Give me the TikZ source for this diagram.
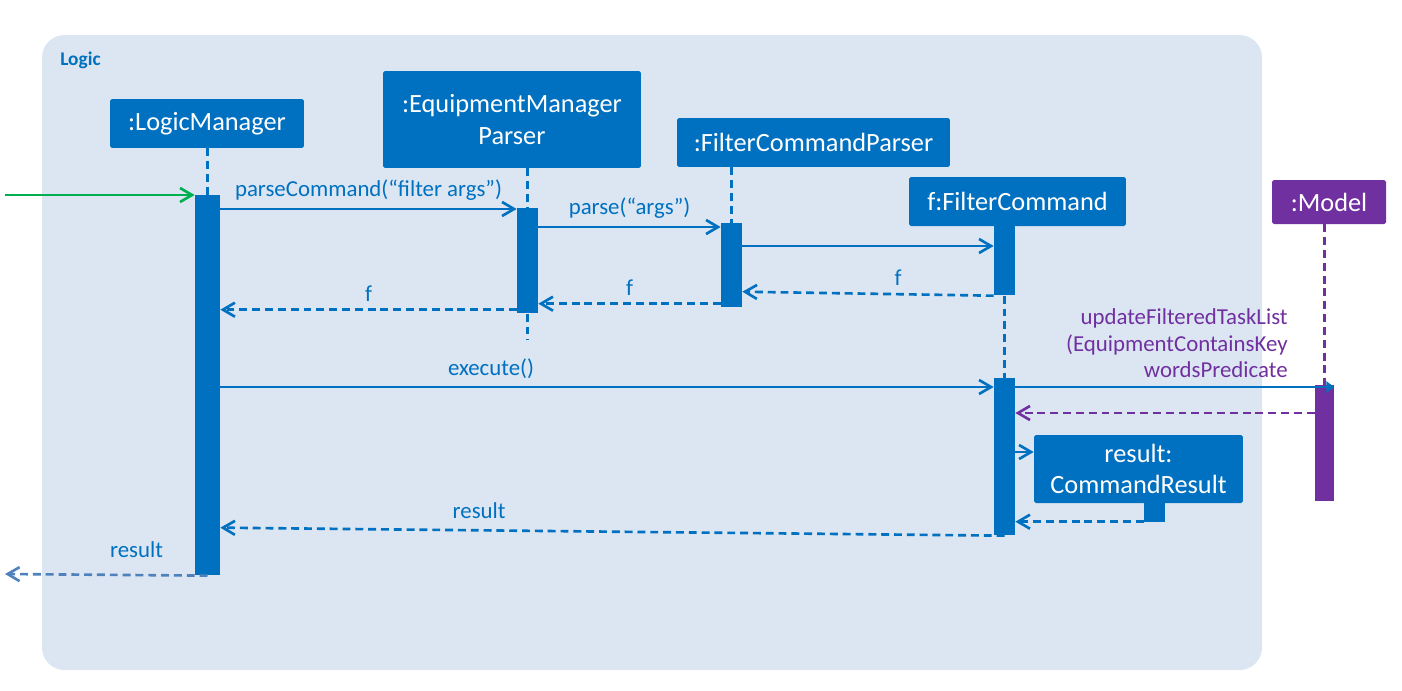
\documentclass[tikz,border=0pt]{standalone}
\usepackage{fontspec}
\setmainfont{Carlito}
\usepackage{tikz}
\usetikzlibrary{arrows.meta,calc}
\definecolor{seqblue}{HTML}{0070C0}
\definecolor{seqpurple}{HTML}{7030A0}
\definecolor{seqgreen}{HTML}{00B050}
\definecolor{seqpale}{HTML}{4F81BD}
\definecolor{panel}{HTML}{DCE6F2}
\tikzset{
  objbox/.style={fill=seqblue, text=white, font=\fontsize{15}{18}\selectfont, align=center, inner sep=0pt, rounded corners=1pt},
  actbar/.style={fill=seqblue, inner sep=0pt, minimum width=0.42cm, anchor=north},
  lifeline/.style={draw=seqblue, line width=1.5pt, dash pattern=on 4.5pt off 2.8pt},
  callarr/.style={-{Straight Barb[length=2.4mm,width=2.8mm]}, draw=seqblue, line width=1.5pt},
  retarr/.style={callarr, dash pattern=on 4.5pt off 2.8pt},
  msglabel/.style={text=seqblue, font=\fontsize{13}{15}\selectfont, inner sep=2pt}
}
\begin{document}
\begin{tikzpicture}[x=0.02cm, y=-0.02cm]
  \useasboundingbox (0,0) rectangle (1402,690);
  % Logic panel
  \fill[panel, rounded corners=0.45cm] (42,35) rectangle (1262,670);
  \node[text=seqblue, font=\bfseries\fontsize{11}{13}\selectfont, anchor=west, inner sep=0pt] (logic) at (60,60) {Logic};

  % Objects
  \node[objbox, minimum width=3.88cm, minimum height=0.98cm] (lm) at (207,123.5) {:LogicManager};
  \node[objbox, minimum width=5.16cm, minimum height=1.94cm] (emp) at (512,119.5) {:EquipmentManager\\Parser};
  \node[objbox, minimum width=5.46cm, minimum height=0.98cm] (fcp) at (813.5,142.5) {:FilterCommandParser};
  \node[objbox, minimum width=4.34cm, minimum height=0.98cm] (fc) at (1017.5,201.5) {f:FilterCommand};
  \node[objbox, fill=seqpurple, minimum width=2.28cm, minimum height=0.88cm] (model) at (1329,202) {:Model};
  \node[objbox, minimum width=4.18cm, minimum height=1.36cm] (cr) at (1138.5,469) {result:\\CommandResult};

  % Activation bars
  \node[actbar, minimum width=0.5cm, minimum height=7.6cm] (lmact) at (207.5,195) {};
  \node[actbar, minimum height=2.1cm] (empact) at (527.5,208) {};
  \node[actbar, minimum height=1.68cm] (fcpact) at (731.5,223) {};
  \node[actbar, minimum height=1.38cm] (fcact1) at (1004.5,226) {};
  \node[actbar, minimum height=3.14cm] (fcact2) at (1004.5,378) {};
  \node[actbar, fill=seqpurple, minimum width=0.38cm, minimum height=2.32cm] (modact) at (1324.5,385) {};
  \node[actbar, minimum height=0.38cm] (cract) at (1154.5,503) {};

  % Lifelines
  \coordinate (empend) at (527.5,340);
  \draw[lifeline] (lmact.north |- lm.south) -- (lmact.north);
  \draw[lifeline] (empact.north |- emp.south) -- (empact.north);
  \draw[lifeline] (empact.south) -- (empend);
  \draw[lifeline] (fcpact.north |- fcp.south) -- (fcpact.north);
  \draw[lifeline] (fcact1.south) -- (fcact2.north);
  \draw[lifeline, draw=seqpurple] (modact.north |- model.south) -- (modact.north);

  % Messages
  \coordinate (entry) at (5,195);
  \coordinate (exit) at (5,574);
  \draw[callarr, draw=seqgreen] (entry) -- (lmact.north west);
  \draw[callarr] ([yshift=-0.02cm]lmact.east |- empact.north) -- ([yshift=-0.02cm]empact.north west)
    node[msglabel, above=2pt, midway] {parseCommand(“filter args”)};
  \draw[callarr] ([yshift=-0.08cm]empact.east |- fcpact.north) -- ([yshift=-0.08cm]fcpact.north west)
    node[msglabel, above=2pt, midway] {parse(“args”)};
  \draw[callarr] ([yshift=-0.46cm]fcpact.north east) -- ([yshift=-0.46cm]fcpact.north east -| fcact1.west);
  \draw[retarr] (fcact1.south west) -- ([yshift=0.32cm]fcpact.south east)
    node[msglabel, above=2pt, pos=0.38] {f};
  \draw[retarr] ([yshift=0.08cm]fcpact.south west) -- ([yshift=0.08cm]fcpact.south west -| empact.east)
    node[msglabel, above=2pt, midway] {f};
  \draw[retarr] ([yshift=0.08cm]empact.south west) -- ([yshift=0.08cm]empact.south west -| lmact.east)
    node[msglabel, above=2pt, midway] {f};
  \draw[callarr] ([yshift=-0.18cm]fcact2.north west -| lmact.east) -- ([yshift=-0.18cm]fcact2.north west)
    node[msglabel, above=2pt, pos=0.35] {execute()};
  \draw[draw=seqblue, line width=1.5pt, -{Triangle[length=1.6mm,width=2.2mm]}]
    ([yshift=-0.18cm]fcact2.north east) -- ([yshift=-0.18cm]fcact2.north east -| modact.east);
  \node[text=seqpurple, font=\fontsize{13}{15}\selectfont, align=right, anchor=south east, inner sep=0pt] (updlbl) at (1288,378)
    {updateFilteredTaskList\\(EquipmentContainsKey\\wordsPredicate};
  \draw[retarr, draw=seqpurple] ([yshift=-0.56cm]modact.north west) -- ([yshift=-0.56cm]modact.north west -| fcact2.east);
  \draw[callarr] ([yshift=0.34cm]cr.west -| fcact2.east) -- ([yshift=0.34cm]cr.west);
  \draw[retarr] ([yshift=0.02cm]cract.south west) -- ([yshift=0.02cm]cract.south west -| fcact2.east);
  \draw[retarr] (fcact2.south) -- ([yshift=0.16cm]fcact2.south -| lmact.east)
    node[msglabel, above=4pt, pos=0.67] {result};
  \draw[retarr, draw=seqpale] (lmact.south) -- (exit)
    node[msglabel, above=7pt, pos=0.35] {result};
\end{tikzpicture}
\end{document}
